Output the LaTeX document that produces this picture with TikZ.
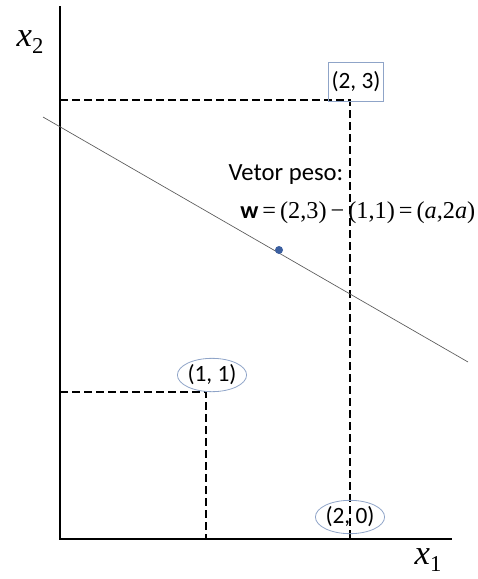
\documentclass[tikz,border=0pt]{standalone}
\usepackage{amsmath,amssymb}
\usepackage{fontspec}
\setmainfont{Liberation Serif}
\newfontfamily\labelfont{Carlito}
\usetikzlibrary{shapes.geometric}

\definecolor{tagblue}{HTML}{8FA4C8}
\definecolor{dotblue}{HTML}{3B5FA0}

\newcommand{\axlabel}[2]{\textit{#1}\raisebox{-0.45ex}{\fontsize{17}{19}\selectfont #2}}

\begin{document}
\begin{tikzpicture}[x=0.75pt, y=-0.75pt,
    axis/.style={line width=2.2pt},
    guide/.style={line width=1.8pt, dash pattern=on 6pt off 3pt},
    tagbox/.style={draw=tagblue, line width=0.6pt, inner sep=2pt, font=\labelfont\fontsize{17.5}{20}\selectfont},
    tagoval/.style={tagbox, ellipse, inner sep=0pt, minimum width=45pt, minimum height=25pt},
    every node/.style={font=\fontsize{17}{20}\selectfont}]
  \useasboundingbox (0,0) rectangle (478,579);
  % axes
  \coordinate (O) at (60,539);
  \coordinate (ytop) at (60,6);
  \coordinate (xend) at (452,539);
  \draw[axis] (ytop) -- (O) -- (xend);
  \node[font=\fontsize{26}{28}\selectfont] (x2) at (30,42) {\axlabel{x}{2}};
  \node[font=\fontsize{26}{28}\selectfont] (x1) at (428,560) {\axlabel{x}{1}};
  % points
  \coordinate (p23) at (350,100);
  \coordinate (p11) at (206,392);
  \draw[guide] (O |- p23) -- (p23) -- (p23 |- O);
  \draw[guide] (O |- p11) -- (p11) -- (p11 |- O);
  % separating line and weight point
  \coordinate (l1) at (43,117);
  \coordinate (l2) at (468,362);
  \draw[gray!70!black, line width=0.5pt] (l1) -- (l2);
  \fill[dotblue] (279,250) circle (4);
  % labels
  \node[tagbox, minimum width=41pt, minimum height=29pt] (t23) at (356,82) {(2, 3)};
  \node[tagoval] (t11) at (212,375) {(1, 1)};
  \node[tagoval] (t20) at (350,517) {(2, 0)};
  \node[font=\labelfont\fontsize{18.5}{21}\selectfont] (vp) at (286,175) {Vetor peso:};
  \node[anchor=west, inner sep=0pt, font=\fontsize{18.2}{21}\selectfont] (eq) at (240,213)
    {{\labelfont\bfseries w}\,=\,(2,3)\,\textminus\,(1,1)\,=\,(\textit{a},2\textit{a})};
\end{tikzpicture}
\end{document}
